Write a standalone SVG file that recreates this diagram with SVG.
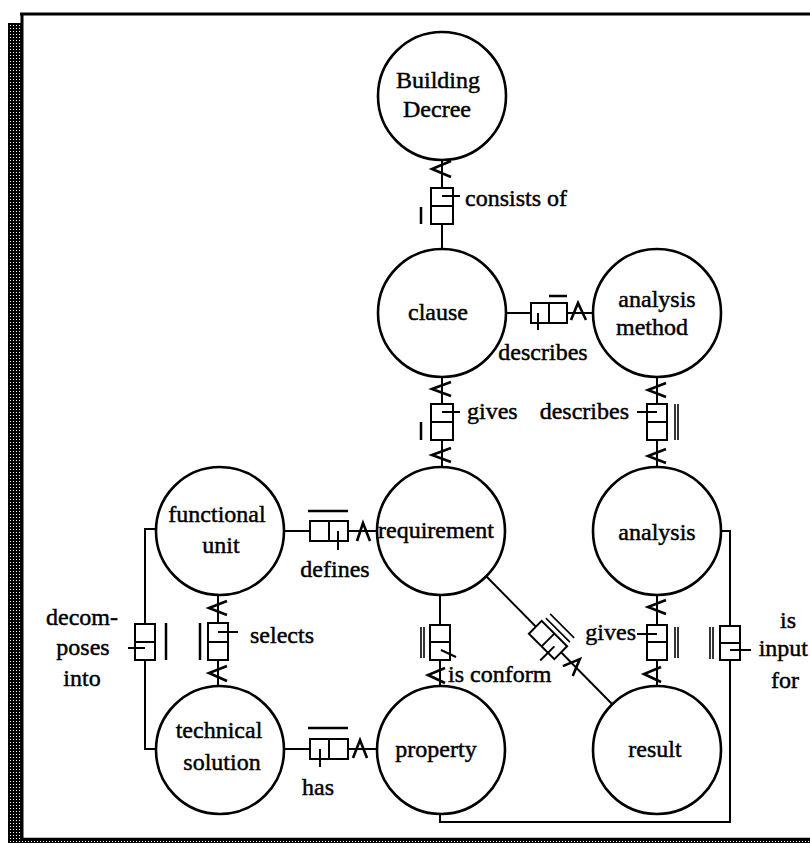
<svg xmlns="http://www.w3.org/2000/svg" width="810" height="843" viewBox="0 0 810 843">
<defs>
<pattern id="shade" width="3" height="3" patternUnits="userSpaceOnUse"><rect width="3" height="3" fill="#000"/><rect x="1" y="1" width="1" height="1" fill="#fff"/></pattern>
</defs>
<style>
.node circle{fill:#fff;stroke:#000;stroke-width:2.6}
text{font-family:"Liberation Serif","Times New Roman",serif;font-size:24px;fill:#000;stroke:#000;stroke-width:0.45}
.node text{text-anchor:middle}
.mid{text-anchor:middle}
.end{text-anchor:end}
.ln{fill:none;stroke:#000;stroke-width:2}
.box{fill:#fff;stroke:#000;stroke-width:2}
.bar{stroke:#000;stroke-width:2.5;fill:none}
.bar2{stroke:#000;stroke-width:1.6;fill:none}
.chev{fill:none;stroke:#000;stroke-width:2.6}
</style>
<rect width="810" height="843" fill="#fff"/>
<g id="frame">
<rect x="8" y="23" width="13" height="820" fill="url(#shade)"/>
<rect x="8" y="840" width="802" height="3" fill="url(#shade)"/>
<line x1="20" y1="14" x2="810" y2="14" stroke="#000" stroke-width="3"/>
<line x1="22" y1="13" x2="22" y2="840" stroke="#000" stroke-width="3"/>
<line x1="21" y1="839" x2="810" y2="839" stroke="#000" stroke-width="2.5"/>
</g>
<g id="connectors">
<g id="c-consists">
<line class="ln" x1="442" y1="160" x2="442" y2="249"/>
<rect class="box" x="431" y="188" width="22" height="36"/><line class="ln" x1="431" y1="206" x2="453" y2="206"/>
<line class="ln" x1="442" y1="196" x2="460" y2="196"/>
<line class="bar" x1="421" y1="207" x2="421" y2="224"/>
<polyline class="chev" points="451,161 432,169 451,177"/>
<text x="465" y="206">consists of</text>
</g>
<g id="c-describes1">
<line class="ln" x1="506" y1="313" x2="593" y2="313"/>
<rect class="box" x="531" y="303" width="36" height="20"/><line class="ln" x1="549" y1="303" x2="549" y2="323"/>
<line class="ln" x1="538" y1="313" x2="538" y2="330"/>
<line class="bar" x1="549" y1="296" x2="567" y2="296"/>
<polyline class="chev" points="571,320 578,303 586,320"/>
<text class="mid" x="543" y="360">describes</text>
</g>
<g id="c-gives1">
<line class="ln" x1="442" y1="377" x2="442" y2="467"/>
<rect class="box" x="431" y="404" width="22" height="36"/><line class="ln" x1="431" y1="422" x2="453" y2="422"/>
<line class="ln" x1="442" y1="412" x2="460" y2="412"/>
<line class="bar" x1="421" y1="422" x2="421" y2="440"/>
<polyline class="chev" points="451,382 432,389 451,396"/>
<polyline class="chev" points="451,448 432,455 451,462"/>
<text x="467" y="419">gives</text>
</g>
<g id="c-describes2">
<line class="ln" x1="657" y1="377" x2="657" y2="467"/>
<rect class="box" x="647" y="404" width="20" height="36"/><line class="ln" x1="647" y1="422" x2="667" y2="422"/>
<line class="ln" x1="657" y1="412" x2="637" y2="412"/>
<line class="bar2" x1="675" y1="404" x2="675" y2="440"/><line class="bar2" x1="678" y1="404" x2="678" y2="440"/>
<polyline class="chev" points="666,383 648,390 666,397"/>
<polyline class="chev" points="666,449 648,456 666,463"/>
<text class="end" x="629" y="419">describes</text>
</g>
<g id="c-defines">
<line class="ln" x1="284" y1="531" x2="377" y2="531"/>
<rect class="box" x="310" y="521" width="38" height="20"/><line class="ln" x1="329" y1="521" x2="329" y2="541"/>
<line class="ln" x1="338" y1="531" x2="338" y2="550"/>
<line class="bar" x1="308" y1="511" x2="348" y2="511"/>
<polyline class="chev" points="357,541 363,523 370,541"/>
<text class="mid" x="335" y="577">defines</text>
</g>
<g id="c-selects">
<line class="ln" x1="218" y1="595" x2="218" y2="686"/>
<rect class="box" x="208" y="623" width="20" height="37"/><line class="ln" x1="208" y1="642" x2="228" y2="642"/>
<line class="ln" x1="218" y1="632" x2="238" y2="632"/>
<line class="bar" x1="200" y1="623" x2="200" y2="660"/>
<polyline class="chev" points="227,601 209,608 227,615"/>
<polyline class="chev" points="227,666 209,673 227,681"/>
<text x="250" y="643">selects</text>
</g>
<g id="c-decomposes">
<path class="ln" d="M156,529 H145 V749 H156"/>
<rect class="box" x="135" y="624" width="20" height="36"/><line class="ln" x1="135" y1="642" x2="155" y2="642"/>
<line class="ln" x1="145" y1="648" x2="128" y2="648"/>
<line class="bar" x1="166" y1="623" x2="166" y2="660"/>
<text class="mid" x="82" y="625">decom-</text>
<text class="mid" x="83" y="655">poses</text>
<text class="mid" x="82" y="686">into</text>
</g>
<g id="c-has">
<line class="ln" x1="284" y1="749" x2="377" y2="749"/>
<rect class="box" x="310" y="739" width="38" height="20"/><line class="ln" x1="329" y1="739" x2="329" y2="759"/>
<line class="ln" x1="320" y1="749" x2="320" y2="767"/>
<line class="bar" x1="308" y1="728" x2="348" y2="728"/>
<polyline class="chev" points="353,758 360,740 367,758"/>
<text class="mid" x="318" y="795">has</text>
</g>
<g id="c-conform">
<line class="ln" x1="440" y1="595" x2="440" y2="686"/>
<rect class="box" x="430" y="625" width="20" height="35"/><line class="ln" x1="430" y1="642" x2="450" y2="642"/>
<line class="ln" x1="441" y1="650" x2="456" y2="657"/>
<line class="bar2" x1="421" y1="627" x2="421" y2="658"/><line class="bar2" x1="424" y1="627" x2="424" y2="658"/>
<polyline class="chev" points="445,668 428,675 445,683"/>
<text x="448" y="682">is conform</text>
</g>
<g id="c-diagonal">
<line class="ln" x1="486" y1="576" x2="612" y2="704"/>
<g transform="translate(548,640) rotate(45)">
<rect class="box" x="-18" y="-9" width="36" height="18"/><line class="ln" x1="0" y1="-9" x2="0" y2="9"/>
<line class="ln" x1="9" y1="0" x2="9" y2="20"/>
<line class="bar2" x1="-17" y1="-14" x2="17" y2="-14"/>
<line class="bar2" x1="-17" y1="-20" x2="17" y2="-20"/>
<polyline class="chev" points="29,8 36,-9 43,8"/>
</g>
</g>
<g id="c-gives2">
<line class="ln" x1="657" y1="595" x2="657" y2="686"/>
<rect class="box" x="647" y="625" width="20" height="35"/><line class="ln" x1="647" y1="642" x2="667" y2="642"/>
<line class="ln" x1="657" y1="634" x2="637" y2="634"/>
<line class="bar2" x1="675" y1="627" x2="675" y2="658"/><line class="bar2" x1="678" y1="627" x2="678" y2="658"/>
<polyline class="chev" points="666,600 648,607 666,614"/>
<polyline class="chev" points="661,667 644,674 661,682"/>
<text class="end" x="636" y="640">gives</text>
</g>
<g id="c-input">
<path class="ln" d="M721,531 H730 V822 H440 V814"/>
<rect class="box" x="720" y="626" width="20" height="34"/><line class="ln" x1="720" y1="643" x2="740" y2="643"/>
<line class="ln" x1="730" y1="650" x2="751" y2="650"/>
<line class="bar2" x1="710" y1="627" x2="710" y2="659"/><line class="bar2" x1="713" y1="627" x2="713" y2="659"/>
<text class="mid" x="788" y="628">is</text>
<text class="end" x="808" y="656">input</text>
<text class="mid" x="785" y="688">for</text>
</g>
</g>
<g id="building-decree" class="node"><circle cx="442" cy="96" r="64"/><text x="438" y="88">Building</text><text x="437" y="117">Decree</text></g>
<g id="clause" class="node"><circle cx="442" cy="313" r="64"/><text x="438" y="320">clause</text></g>
<g id="analysis-method" class="node"><circle cx="657" cy="313" r="64"/><text x="657" y="307">analysis</text><text x="652" y="335">method</text></g>
<g id="functional-unit" class="node"><circle cx="220" cy="531" r="64"/><text x="217" y="522">functional</text><text x="221" y="553">unit</text></g>
<g id="requirement" class="node"><circle cx="441" cy="531" r="64"/><text x="436" y="538">requirement</text></g>
<g id="analysis" class="node"><circle cx="657" cy="531" r="64"/><text x="657" y="540">analysis</text></g>
<g id="technical-solution" class="node"><circle cx="220" cy="750" r="64"/><text x="219" y="738">technical</text><text x="222" y="770">solution</text></g>
<g id="property" class="node"><circle cx="441" cy="750" r="64"/><text x="436" y="757">property</text></g>
<g id="result" class="node"><circle cx="657" cy="750" r="64"/><text x="655" y="757">result</text></g>
</svg>
